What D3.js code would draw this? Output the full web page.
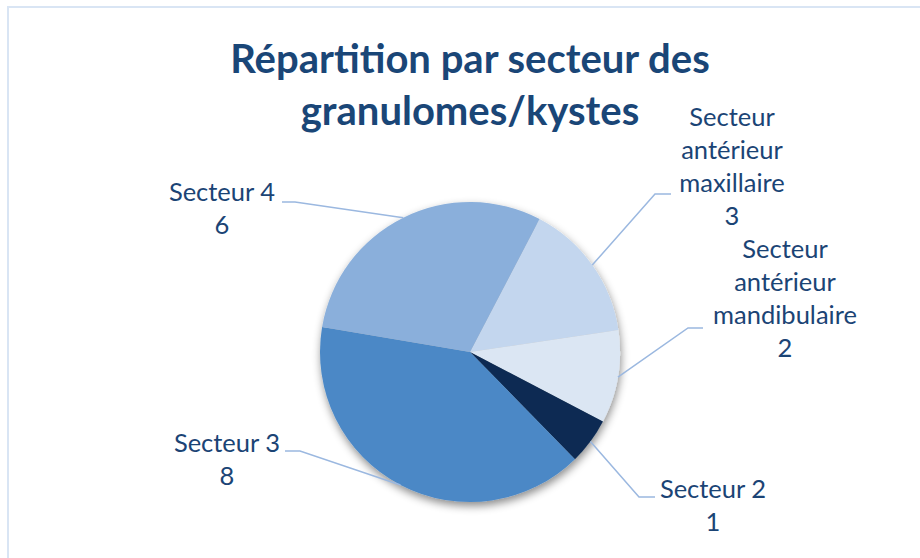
<!DOCTYPE html>
<html>
<head>
<meta charset="utf-8">
<script src="https://cdn.jsdelivr.net/npm/d3@7"></script>
<style>
  html, body { margin: 0; padding: 0; background: #fff; }
  svg { display: block; }
</style>
</head>
<body>
<svg id="chart" width="920" height="558"></svg>
<script>
// Slice data, in clockwise drawing order
const categories = [
  ["Secteur", "antérieur", "maxillaire"],
  ["Secteur", "antérieur", "mandibulaire"],
  ["Secteur 2"],
  ["Secteur 3"],
  ["Secteur 4"]
];
const values = [3, 2, 1, 8, 6];
const sliceColors = ["#c3d6ee", "#dbe6f3", "#0b2a52", "#4b88c6", "#8aafdb"];
const titleLines = ["Répartition par secteur des", "granulomes/kystes"];

// Label placement: text centre, first baseline, leader elbow and leader end
const labelLayout = [
  { tx: 732, ty: 126, ex: 655, ey: 194, hx: 671 },
  { tx: 785, ty: 258, ex: 688, ey: 328, hx: 703 },
  { tx: 713, ty: 498, ex: 639, ey: 497, hx: 655 },
  { tx: 227, ty: 452, ex: 300, ey: 451, hx: 285 },
  { tx: 222, ty: 201, ex: 295, ey: 202, hx: 282 }
];

const svg = d3.select("#chart");
const W = 920, H = 558;
const cx = 470, cy = 352, R = 150;
const textColor = "#1b4475";
const font = "Lato, 'Open Sans', sans-serif";

// Chart frame
svg.append("rect")
  .attr("x", 8).attr("y", 7)
  .attr("width", W).attr("height", H)
  .attr("fill", "#fff")
  .attr("stroke", "#d9e5f4")
  .attr("stroke-width", 2);

// Drop shadow under the pie
const defs = svg.append("defs");
const f = defs.append("filter").attr("id", "shadow")
  .attr("x", "-20%").attr("y", "-20%").attr("width", "140%").attr("height", "140%");
f.append("feDropShadow")
  .attr("dx", 1).attr("dy", 4)
  .attr("stdDeviation", 4)
  .attr("flood-color", "#000")
  .attr("flood-opacity", 0.45);

// Title
svg.append("g").selectAll("text")
  .data(titleLines)
  .join("text")
  .attr("x", 470)
  .attr("y", (d, i) => 73 + i * 52)
  .attr("text-anchor", "middle")
  .attr("font-family", font)
  .attr("font-weight", "bold")
  .attr("font-size", 40)
  .attr("fill", "#1a4677")
  .text(d => d);

// Pie
const start = 27.6 * Math.PI / 180;
const pie = d3.pie().sort(null).startAngle(start).endAngle(start + 2 * Math.PI);
const arcs = pie(values);
const arc = d3.arc().innerRadius(0).outerRadius(R);

const g = svg.append("g").attr("transform", `translate(${cx},${cy})`);
g.append("g").attr("filter", "url(#shadow)")
  .selectAll("path")
  .data(arcs)
  .join("path")
  .attr("d", arc)
  .attr("fill", (d, i) => sliceColors[i]);

// Leader lines from slice mid-point on the rim
const leaders = svg.append("g");
arcs.forEach((a, i) => {
  const mid = (a.startAngle + a.endAngle) / 2;
  const px = cx + R * Math.sin(mid);
  const py = cy - R * Math.cos(mid);
  const L = labelLayout[i];
  leaders.append("polyline")
    .attr("points", `${px},${py} ${L.ex},${L.ey} ${L.hx},${L.ey}`)
    .attr("fill", "none")
    .attr("stroke", "#9bb8e0")
    .attr("stroke-width", 1.5);
});

// Labels: category lines then value
const labels = svg.append("g");
arcs.forEach((a, i) => {
  const L = labelLayout[i];
  const lines = categories[i].concat([String(values[i])]);
  const t = labels.append("text")
    .attr("text-anchor", "middle")
    .attr("font-family", font)
    .attr("font-size", 25.5)
    .attr("fill", textColor);
  lines.forEach((ln, j) => {
    t.append("tspan")
      .attr("x", L.tx)
      .attr("y", L.ty + j * 33)
      .text(ln);
  });
});
</script>
</body>
</html>
